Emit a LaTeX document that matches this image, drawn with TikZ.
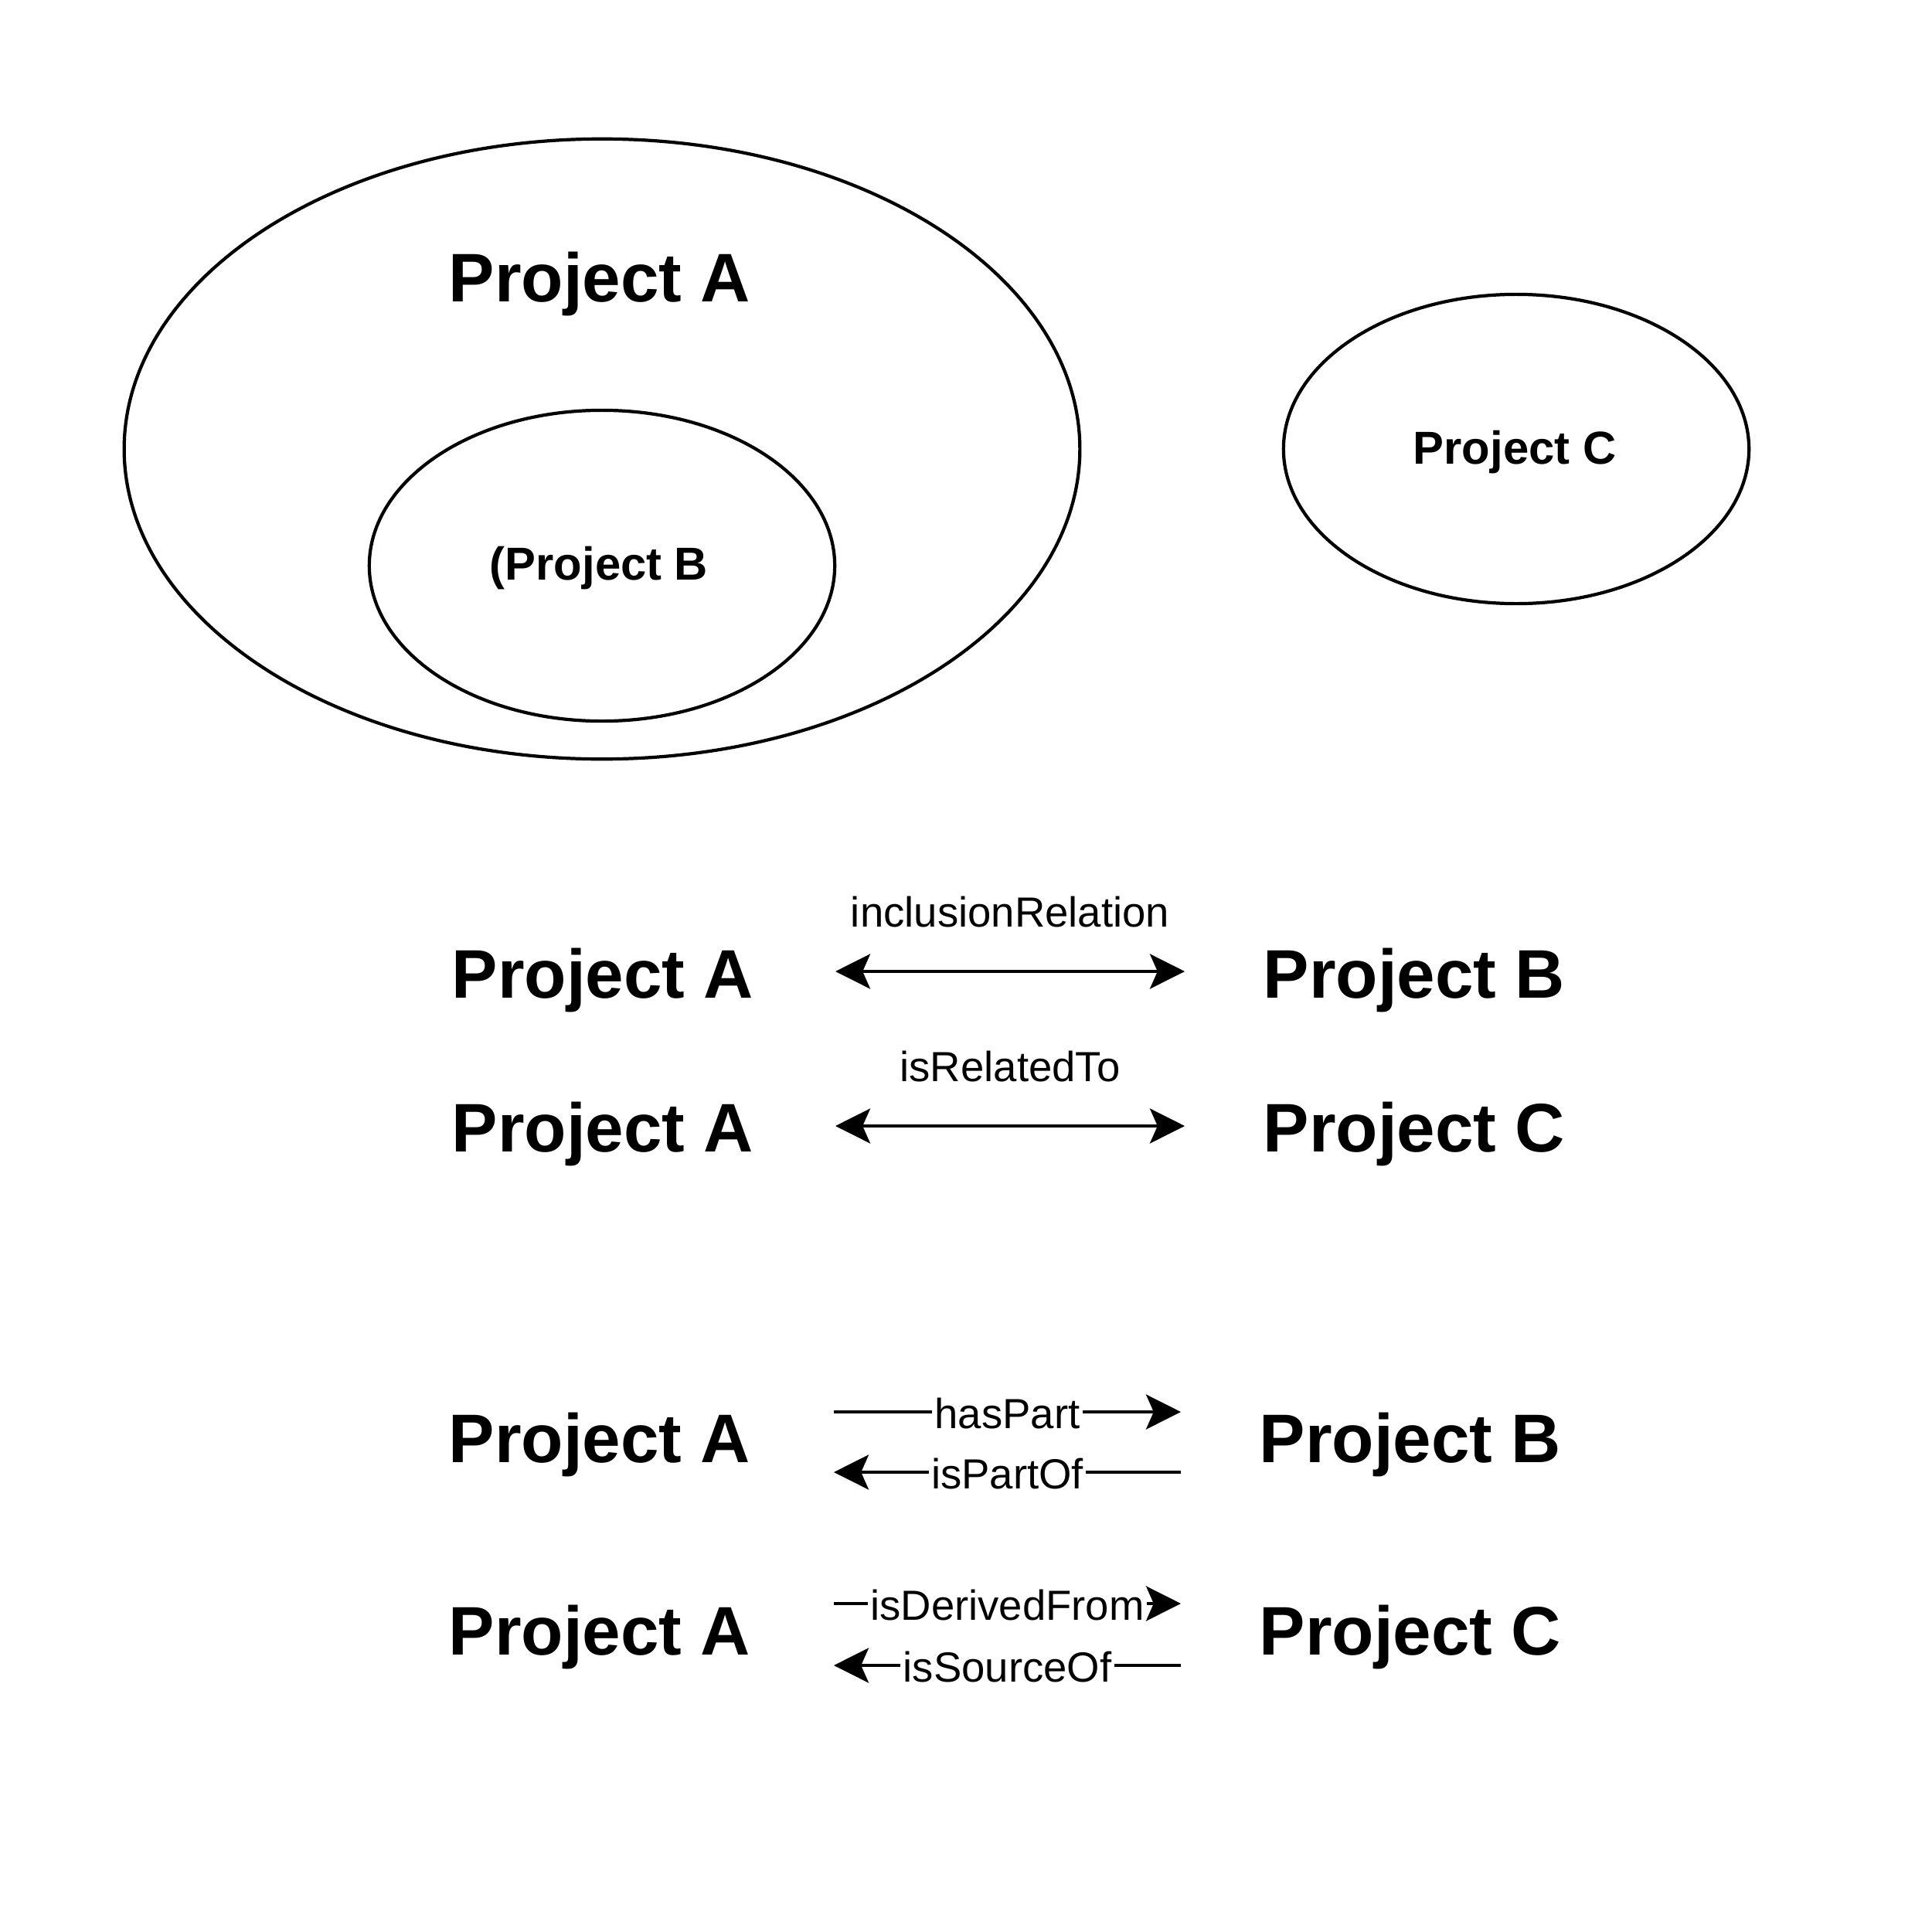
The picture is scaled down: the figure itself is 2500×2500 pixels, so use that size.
\documentclass[tikz,border=0pt]{standalone}
\usepackage{fontspec}
\setmainfont{Liberation Sans}
\usetikzlibrary{shapes.geometric,arrows.meta}
\begin{document}
\begin{tikzpicture}[x=0.01cm,y=-0.01cm,
  oval/.style={draw, ellipse, line width=1.2pt, inner sep=0pt, outer sep=0pt},
  big/.style={font=\fontsize{25.3}{30}\selectfont\bfseries, anchor=base, inner sep=0pt},
  mid/.style={font=\fontsize{17}{20}\selectfont\bfseries, anchor=base, inner sep=0pt},
  lbl/.style={font=\fontsize{15.5}{18}\selectfont, fill=white, inner xsep=1pt, inner ysep=0pt, text height=12pt, text depth=0pt, anchor=center},
  toplbl/.style={font=\fontsize{15.5}{18}\selectfont, anchor=base, inner sep=0pt, yshift=0.57cm},
  arr/.style={line width=1.15pt, -{Stealth[length=12.8pt,width=12.8pt,inset=2.8pt]}},
  darr/.style={line width=1.15pt, {Stealth[length=12.8pt,width=12.8pt,inset=2.8pt]}-{Stealth[length=12.8pt,width=12.8pt,inset=2.8pt]}},
]
\useasboundingbox (0,0) rectangle (2500,2500);

% top: inclusion picture
\node[oval, minimum width=12.36cm, minimum height=8.02cm] (ea) at (779,581) {};
\node[oval, minimum width=6.02cm, minimum height=4.02cm] (eb) at (779,732) {};
\node[oval, minimum width=6.02cm, minimum height=4.0cm] (ec) at (1962,581) {};
\node[big] (ta) at (776,390) {Project A};
\node[mid] (tb) at (775,750) {(Project B};
\node[mid] (tc) at (1960,600) {Project C};

% middle: symmetric relations
\node[big] (a1) at (780,1291) {Project A};
\node[big] (b1) at (1830,1291) {Project B};
\node[big] (a2) at (780,1490) {Project A};
\node[big] (c2) at (1830,1490) {Project C};
\coordinate (a1e) at (1081,1257);
\coordinate (b1w) at (1533,1257);
\coordinate (a2e) at (1081,1457);
\coordinate (c2w) at (1533,1457);
\draw[darr] (a1e) -- node[toplbl] {inclusionRelation} (b1w);
\draw[darr] (a2e) -- node[toplbl] {isRelatedTo} (c2w);

% bottom: directed relations
\node[big] (a3) at (776,1892) {Project A};
\node[big] (b3) at (1825,1892) {Project B};
\node[big] (a4) at (776,2141) {Project A};
\node[big] (c4) at (1825,2141) {Project C};
\coordinate (a3e1) at (1079,1827);
\coordinate (b3w1) at (1528,1827);
\coordinate (a3e2) at (1079,1905);
\coordinate (b3w2) at (1528,1905);
\coordinate (a4e1) at (1079,2075);
\coordinate (c4w1) at (1528,2075);
\coordinate (a4e2) at (1079,2155);
\coordinate (c4w2) at (1528,2155);
\draw[arr] (a3e1) -- node[lbl] {hasPart} (b3w1);
\draw[arr] (b3w2) -- node[lbl] {isPartOf} (a3e2);
\draw[arr] (a4e1) -- node[lbl] {isDerivedFrom} (c4w1);
\draw[arr] (c4w2) -- node[lbl] {isSourceOf} (a4e2);
\end{tikzpicture}
\end{document}
